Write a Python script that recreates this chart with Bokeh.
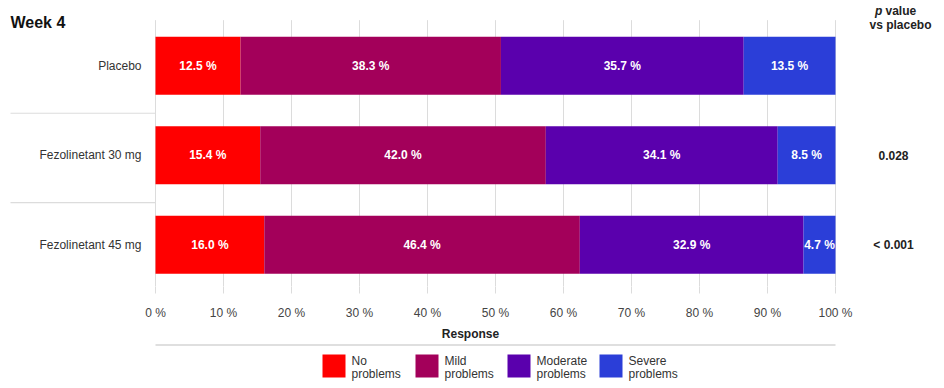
from bokeh.plotting import figure
from bokeh.models import Range1d, FixedTicker
from bokeh.layouts import column
from bokeh.embed import file_html
from bokeh.resources import INLINE
from bokeh.core.properties import value

# ---------------- data ----------------
categories = ["Placebo", "Fezolinetant 30 mg", "Fezolinetant 45 mg"]
no_problems = [12.5, 15.4, 16.0]
mild_problems = [38.3, 42.0, 46.4]
moderate_problems = [35.7, 34.1, 32.9]
severe_problems = [13.5, 8.5, 4.7]
p_values = ["", "0.028", "< 0.001"]
legend_labels = ["No problems", "Mild problems", "Moderate problems", "Severe problems"]
tick_values = [0, 10, 20, 30, 40, 50, 60, 70, 80, 90, 100]
tick_labels = ["0 %", "10 %", "20 %", "30 %", "40 %", "50 %", "60 %", "70 %", "80 %", "90 %", "100 %"]
title_text = "Week 4"
x_title = "Response"

# ---------------- styles / layout ----------------
colors = ["#ff0000", "#a3005a", "#5a00ad", "#2b3ed8"]
FONT = value("Liberation Sans")
W = 940
H1 = 343
H2 = 43
# page-pixel geometry of the frame (page origin = canvas origin)
PX0, PX100 = 155.0, 835.0          # page x of 0 % and 100 %
PXS = (PX100 - PX0) / 100.0        # px per percent
FRAME_L, FRAME_R = 0.0, float(W)
FRAME_T, FRAME_B = 0.0, 291.0
ROW_PX = 91.0
ROW0_PY = 248.5                    # page y of last row centre


def px2x(px):
    return (px - PX0) / PXS


def py2y(py):
    return (ROW0_PY - py) / ROW_PX


n = len(categories)
ypos = [n - 1 - i for i in range(n)]

p = figure(width=W, height=H1, output_backend="svg", toolbar_location=None,
           x_range=Range1d(px2x(FRAME_L), px2x(FRAME_R)),
           y_range=Range1d(py2y(FRAME_B), py2y(FRAME_T)),
           y_axis_location=None, min_border_left=0, min_border_right=0,
           min_border_top=0, min_border_bottom=H1 - int(FRAME_B))
p.outline_line_color = None
p.xgrid.visible = False
p.ygrid.visible = False
p.background_fill_color = "white"
p.border_fill_color = "white"

# vertical grid lines
grid_top = py2y(20)
p.segment(x0=tick_values, x1=tick_values, y0=[grid_top] * len(tick_values),
          y1=[py2y(FRAME_B)] * len(tick_values), line_color="#dcdcdc", line_width=1)

# row separators (left label area)
sep_y = [y + 0.47 for y in ypos[1:]]
p.segment(x0=[px2x(10)] * len(sep_y), x1=[0] * len(sep_y), y0=sep_y, y1=sep_y,
          line_color="#dcdcdc", line_width=1.2)

# stacked bars
series = [no_problems, mild_problems, moderate_problems, severe_problems]
left = [0.0] * n
BAR_H = 59.0 / ROW_PX
lab_x, lab_y, lab_t = [], [], []
for s, col in zip(series, colors):
    right = [l + v for l, v in zip(left, s)]
    p.hbar(y=ypos, left=left, right=right, height=BAR_H, fill_color=col, line_color=None)
    for l, r, v, yy in zip(left, right, s, ypos):
        lab_x.append((l + r) / 2)
        lab_y.append(yy)
        lab_t.append(f"{v:.1f} %")
    left = right

p.text(x=lab_x, y=lab_y, text=lab_t, text_color="white", text_font=FONT,
       text_font_size="12px", text_font_style="bold", text_align="center",
       text_baseline="middle")

# category labels
p.text(x=[px2x(141)] * n, y=ypos, text=categories, text_color="#333333", text_font=FONT,
       text_font_size="12px", text_align="right", text_baseline="middle")

# p values
p.text(x=[px2x(893)] * n, y=ypos, text=p_values, text_color="#222222", text_font=FONT,
       text_font_size="12px", text_font_style="bold", text_align="center",
       text_baseline="middle")

# header
p.text(x=[px2x(874.5)], y=[py2y(10.5)], text=["p"], text_color="#222222", text_font=FONT,
       text_font_size="12px", text_font_style="bold italic", text_align="left",
       text_baseline="alphabetic")
p.text(x=[px2x(885)], y=[py2y(10.5)], text=["value"], text_color="#222222", text_font=FONT,
       text_font_size="12px", text_font_style="bold", text_align="left",
       text_baseline="alphabetic")
p.text(x=[px2x(900)], y=[py2y(24.5)], text=["vs placebo"], text_color="#222222", text_font=FONT,
       text_font_size="12px", text_font_style="bold", text_align="center",
       text_baseline="alphabetic")

# title
p.text(x=[px2x(10)], y=[py2y(22.5)], text=[title_text], text_color="#111111", text_font=FONT,
       text_font_size="16px", text_font_style="bold", text_align="left",
       text_baseline="alphabetic")

# x axis
ax = p.xaxis[0]
ax.ticker = FixedTicker(ticks=tick_values)
ax.major_label_overrides = {t: l for t, l in zip(tick_values, tick_labels)}
ax.axis_line_color = None
ax.major_tick_line_color = "#dcdcdc"
ax.major_tick_out = 7
ax.major_tick_in = 0
ax.minor_tick_line_color = None
ax.major_label_standoff = 12
ax.major_label_text_font = "Liberation Sans"
ax.major_label_text_font_size = "12px"
ax.major_label_text_color = "#444444"
ax.axis_label = x_title
ax.axis_label_standoff = 4
ax.axis_label_text_font = "Liberation Sans"
ax.axis_label_text_font_size = "12px"
ax.axis_label_text_font_style = "bold"
ax.axis_label_text_color = "#222222"

# ---------------- legend figure ----------------
p2 = figure(width=W, height=H2, output_backend="svg", toolbar_location=None,
            x_range=p.x_range, y_range=Range1d(H1 + H2, H1),
            x_axis_location=None, y_axis_location=None,
            min_border_left=0, min_border_right=0, min_border_top=0, min_border_bottom=0)
p2.outline_line_color = None
p2.xgrid.visible = False
p2.ygrid.visible = False

# legend layout in page pixels (y axis of p2 is page y)
p2.segment(x0=[tick_values[0]], x1=[tick_values[-1]], y0=[344.5], y1=[344.5],
           line_color="#d4d4d4", line_width=1.5)

legend_px = [322, 415, 507, 599]
box_w = 23
p2.quad(left=[px2x(x) for x in legend_px], right=[px2x(x + box_w) for x in legend_px],
        top=[354] * 4, bottom=[377] * 4, fill_color=colors, line_color=None)
first = [l.split(" ", 1)[0] for l in legend_labels]
second = [l.split(" ", 1)[1] for l in legend_labels]
tx = [px2x(x + 29) for x in legend_px]
p2.text(x=tx, y=[360] * 4, text=first, text_color="#333333", text_font=FONT,
        text_font_size="12px", text_align="left", text_baseline="middle")
p2.text(x=tx, y=[373] * 4, text=second, text_color="#333333", text_font=FONT,
        text_font_size="12px", text_align="left", text_baseline="middle")

layout = column(p, p2, spacing=0)
open("out.html", "w").write(file_html(layout, INLINE))
